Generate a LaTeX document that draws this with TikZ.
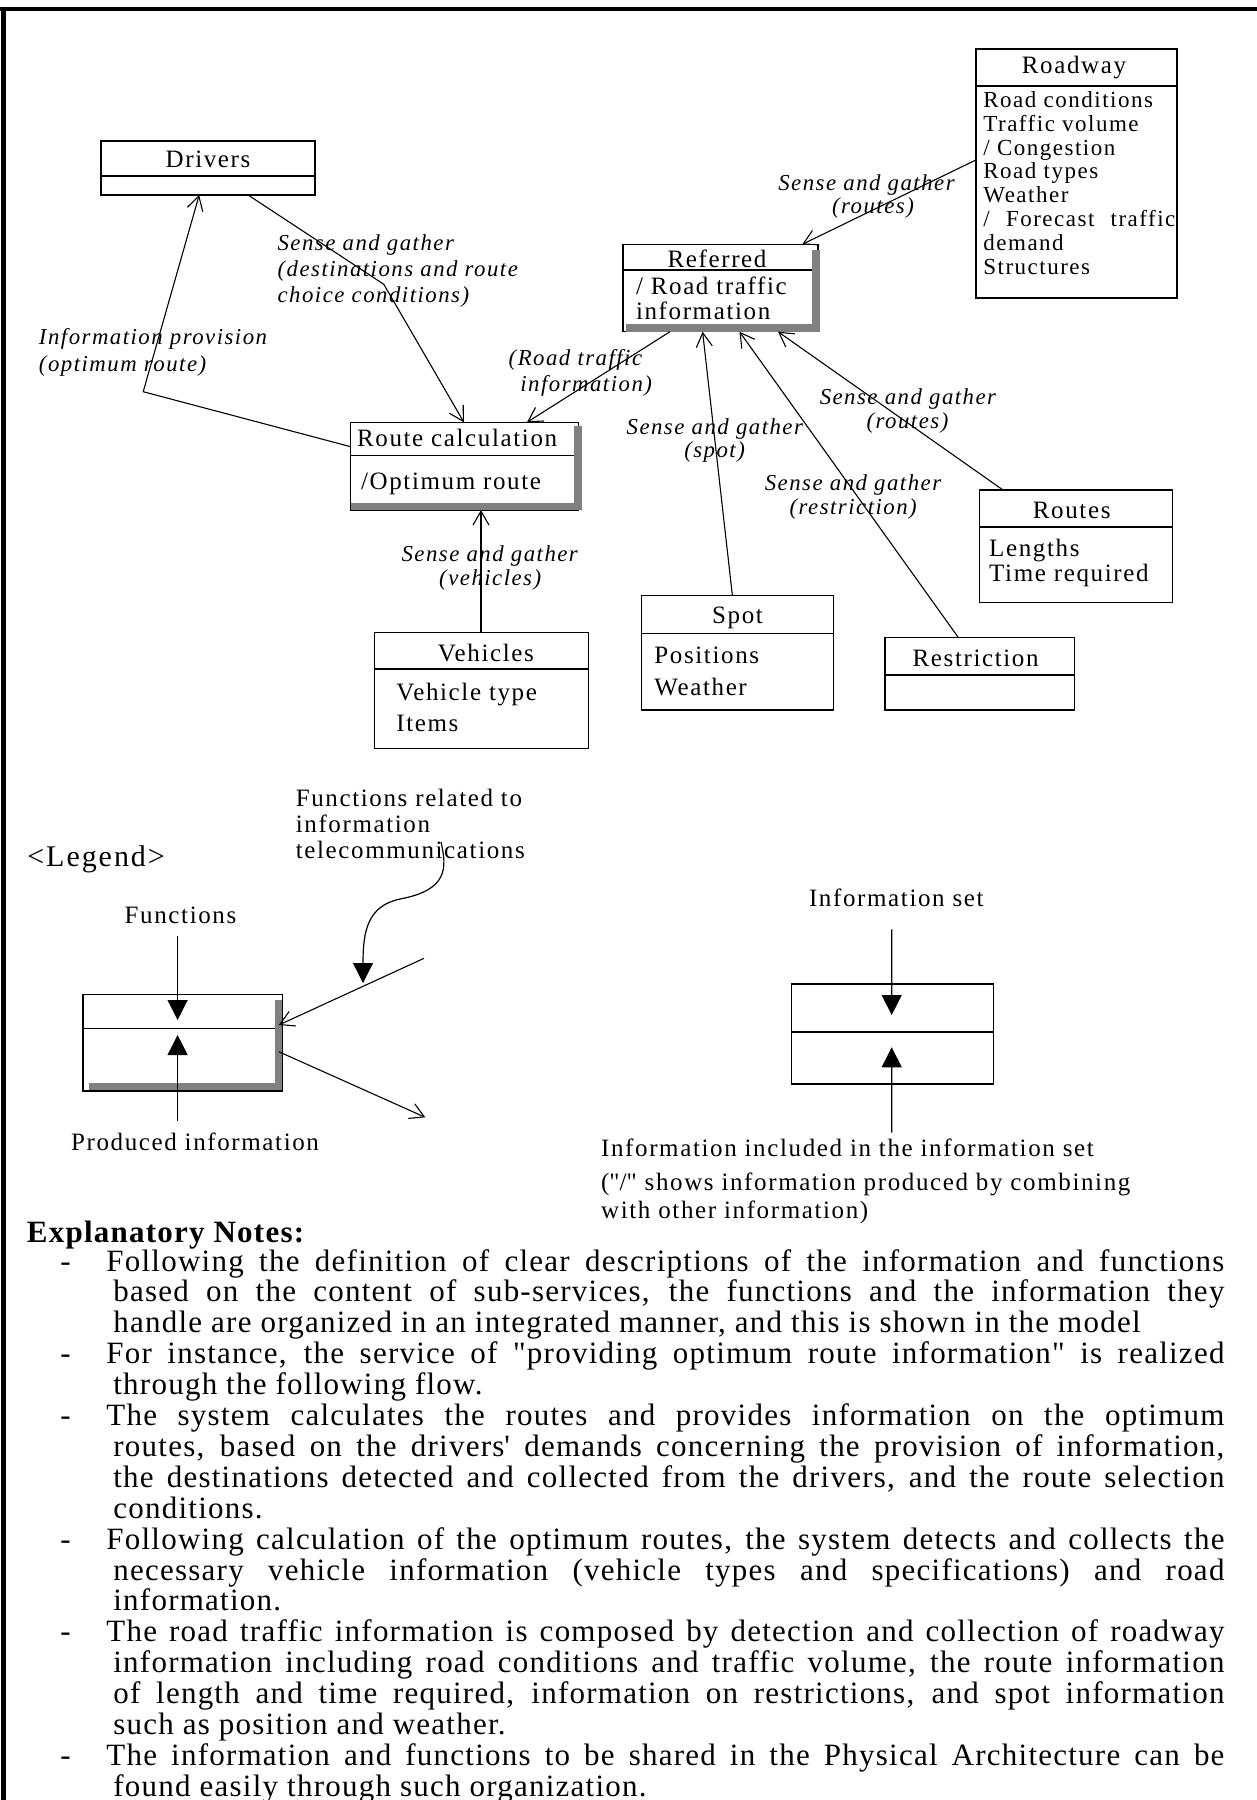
\documentclass[tikz,border=0pt]{standalone}
\usepackage{fontspec}
\setmainfont{Liberation Serif}[LetterSpace=6.5]
\newfontfamily\notesfont{Liberation Serif}[LetterSpace=4]
\usetikzlibrary{arrows.meta,calc}
\definecolor{shadegray}{gray}{0.5}

% class box: name, x1, y1, x2, y2, y of the compartment line
\newcommand\umlbox[6]{%
  \node[umlframe, minimum width={(#4-#2)*0.5pt}, minimum height={(#5-#3)*0.5pt}] (#1) at (#2,#3) {};
  \draw[thinline] (#2,#6) -- (#4,#6);}

\begin{document}
\begin{tikzpicture}[x=0.5pt, y=-0.5pt,
  thinline/.style={line width=0.6pt},
  flow/.style={line width=0.55pt, -{Straight Barb[length=7pt,width=8pt]}},
  solidhead/.style={line width=0.6pt, -{Triangle[length=10pt,width=10pt]}},
  umlframe/.style={draw, line width=0.6pt, fill=white, inner sep=0pt, outer sep=0pt, anchor=north west},
  shadebar/.style={fill=shadegray, draw=none},
  ttl/.style={inner sep=0pt, anchor=base, font=\fontsize{12.5}{15}\selectfont},
  entry/.style={inner sep=0pt, anchor=base west, font=\fontsize{12.5}{15}\selectfont},
  rwentry/.style={inner sep=0pt, anchor=base west, font=\fontsize{11.5}{14}\selectfont},
  lbl/.style={inner sep=0pt, anchor=base, font=\itshape\fontsize{11.4}{14}\selectfont},
  lbll/.style={lbl, anchor=base west},
  legtxt/.style={inner sep=0pt, anchor=base west, font=\fontsize{12.5}{15}\selectfont},
  legmid/.style={legtxt, anchor=base},
  notetxt/.style={inner sep=0pt, anchor=base west, font=\notesfont\fontsize{15.5}{18}\selectfont}]

\useasboundingbox (0,0) rectangle (1257,1800);

% outer frame
\draw[line width=2pt] (0,9) -- (1257,9);
\draw[line width=2.5pt] (3.5,8) -- (3.5,1800);

% ---------- class boxes ----------
\umlbox{drivers}{101}{141}{315}{195}{176}
\node[ttl] (drivers-t) at (208,167) {Drivers};

\umlbox{roadway}{976}{49}{1177}{298}{86}
\node[ttl] (roadway-t) at (1074,73.5) {Roadway};
\node[rwentry] (rw1) at (983,107.3) {Road conditions};
\node[rwentry] (rw2) at (983,131.2) {Traffic volume};
\node[rwentry] (rw3) at (983,155.0) {/ Congestion};
\node[rwentry] (rw4) at (983,178.9) {Road types};
\node[rwentry] (rw5) at (983,202.7) {Weather};
\node[rwentry] (rw6) at (983,226.6) {\makebox[96pt][s]{/ Forecast traffic}};
\node[rwentry] (rw7) at (983,250.4) {demand};
\node[rwentry] (rw8) at (983,274.3) {Structures};

\umlbox{referred}{623}{244.3}{818}{331.7}{270}
\fill[shadebar] (812.4,250) rectangle (820,331.7);
\fill[shadebar] (626,324) rectangle (820,331.7);
\node[ttl] (referred-t) at (717,267.5) {Referred};
\node[entry] (referred-1) at (635.6,294) {/ Road traffic};
\node[entry] (referred-2) at (635.6,319.5) {information};

\umlbox{route}{350.7}{422.3}{578.3}{510}{455.7}
\fill[shadebar] (574.3,425.7) rectangle (581.7,510);
\fill[shadebar] (350.7,502.7) rectangle (581.7,510);
\node[entry] (route-t) at (356.7,446.7) {Route calculation};
\node[entry] (route-1) at (360.7,489.3) {/Optimum route};

\umlbox{vehicles}{374.3}{632.3}{588.3}{748.3}{669}
\node[ttl] (vehicles-t) at (485.8,661.7) {Vehicles};
\node[entry] (vehicles-1) at (396,700) {Vehicle type};
\node[entry] (vehicles-2) at (396,731.7) {Items};

\umlbox{spot}{641.8}{595.7}{833.8}{710}{633.3}
\node[ttl] (spot-t) at (737.5,623.3) {Spot};
\node[entry] (spot-1) at (654,663.3) {Positions};
\node[entry] (spot-2) at (654,695) {Weather};

\umlbox{restriction}{884.9}{637.3}{1074.2}{710}{675}
\node[ttl] (restriction-t) at (975.6,666.7) {Restriction};

\umlbox{routes}{979.1}{490}{1172.3}{602.3}{527}
\node[ttl] (routes-t) at (1071.7,518.3) {Routes};
\node[entry] (routes-1) at (988.8,556) {Lengths};
\node[entry] (routes-2) at (988.8,581.7) {Time required};

% ---------- connectors ----------
\coordinate (bendA) at (383.8,284.3);
\coordinate (bendB) at (143.2,391.7);
\draw[flow] ($(drivers.south west)+(147.1,0)$) -- (bendA) -- ($(route.north west)+(113.2,0)$);
\draw[flow] ($(route.north west)+(0,24.4)$) -- (bendB) -- ($(drivers.south west)+(98.2,0)$);
\draw[flow] ($(roadway.north west)+(-0.2,111)$) -- ($(referred.north west)+(179.3,0)$);
\draw[flow] ($(referred.south west)+(47,0)$) -- ($(route.north west)+(176.3,0)$);
\draw[flow] ($(spot.north west)+(90.6,0)$) -- ($(referred.south west)+(79.6,0)$);
\draw[flow] ($(restriction.north west)+(73.3,0)$) -- ($(referred.south west)+(116.5,0)$);
\draw[flow] ($(routes.north west)+(23.9,0)$) -- ($(referred.south west)+(155,0)$);
\draw[flow] ($(vehicles.north west)+(106.7,0)$) -- ($(route.south west)+(130.3,0)$);

% ---------- connector labels ----------
\node[lbll] (l1a) at (277.2,250) {Sense and gather};
\node[lbll] (l1b) at (277.2,276) {(destinations and route};
\node[lbll] (l1c) at (277.2,302) {choice conditions)};

\node[lbll] (l2a) at (38.6,344) {Information provision};
\node[lbll] (l2b) at (38.6,371) {(optimum route)};

\node[lbl] (l3a) at (866.5,190) {Sense and gather};
\node[lbl] (l3b) at (873,213.5) {(routes)};

\node[lbll] (l4a) at (508.3,365) {(Road traffic};
\node[lbll] (l4b) at (520,391) {information)};

\node[lbl] (l5a) at (714.8,434) {Sense and gather};
\node[lbl] (l5b) at (714.6,457) {(spot)};

\node[lbl] (l6a) at (907.9,404) {Sense and gather};
\node[lbl] (l6b) at (907.5,428) {(routes)};

\node[lbl] (l7a) at (853,490) {Sense and gather};
\node[lbl] (l7b) at (853.2,514) {(restriction)};

\node[lbl] (l8a) at (489.7,561.5) {Sense and gather};
\node[lbl] (l8b) at (490.2,585) {(vehicles)};

% ---------- legend ----------
\node[legtxt, font=\fontsize{15}{18}\selectfont] (legend) at (27,866) {<Legend>};

\node[legtxt] (tele1) at (295.4,806.6) {Functions related to};
\node[legtxt] (tele2) at (295.4,832.6) {information};
\node[legtxt] (tele3) at (295.4,858.3) {telecommunications};

\node[legmid] (fn-t) at (180.5,923) {Functions};
\node[legmid] (prod-t) at (195,1150) {Produced information};

\umlbox{lgfn}{83}{994.3}{282.2}{1091}{1028.3}
\fill[shadebar] (274.7,1000) rectangle (282.2,1090);
\fill[shadebar] (89.2,1082.7) rectangle (282.2,1090);
\draw[thinline] (lgfn.north west) rectangle (lgfn.south east);

\coordinate (fnTop) at (177.6,936);
\coordinate (prodBot) at (177.6,1120.7);
\draw[solidhead] (fnTop) -- ($(lgfn.north west)+(94.6,25.7)$);
\draw[solidhead] (prodBot) -- ($(lgfn.north west)+(94.6,40.7)$);

\coordinate (teleStart) at (441,842);
\draw[solidhead] (teleStart) .. controls (447,868) and (448,890) .. (400,899)
  .. controls (368,906) and (363,930) .. (363,983);

\coordinate (inFree) at (424,958.3);
\coordinate (outFree) at (425.3,1117.3);
\draw[flow] (inFree) -- ($(lgfn.north east)+(-3.4,30.7)$);
\draw[flow] ($(lgfn.north east)+(-3.4,57.4)$) -- (outFree);

\node[legmid] (set-t) at (896.3,906.6) {Information set};
\umlbox{lgset}{791.6}{984}{993.2}{1084}{1032}
\coordinate (setTop) at (891.7,929.3);
\coordinate (setBot) at (891.7,1132.7);
\draw[solidhead] (setTop) -- ($(lgset.north west)+(100.1,31)$);
\draw[solidhead] (setBot) -- ($(lgset.north west)+(100.1,63.3)$);

\node[legtxt] (inc1) at (600.7,1156.6) {Information included in the information set};
\node[legtxt] (inc2) at (600.7,1190) {(\textquotedbl/\textquotedbl{} shows information produced by combining};
\node[legtxt] (inc3) at (600.7,1218) {with other information)};

% ---------- explanatory notes ----------
\node[notetxt, font=\notesfont\bfseries\fontsize{15.5}{18}\selectfont] (nhead) at (26.5,1242) {Explanatory Notes:};

\node[notetxt] (d1) at (60,1271) {-};
\node[notetxt] (n1) at (106,1271) {\makebox[559pt][s]{Following the definition of clear descriptions of the information and functions}};
\node[notetxt] (n2) at (113,1301.9) {\makebox[555.5pt][s]{based on the content of sub-services, the functions and the information they}};
\node[notetxt] (n3) at (113,1332.8) {handle are organized in an integrated manner, and this is shown in the model};

\node[notetxt] (d2) at (60,1363.7) {-};
\node[notetxt] (n4) at (106,1363.7) {\makebox[559pt][s]{For instance, the service of "providing optimum route information" is realized}};
\node[notetxt] (n5) at (113,1394.6) {through the following flow.};

\node[notetxt] (d3) at (60,1425.5) {-};
\node[notetxt] (n6) at (106,1425.5) {\makebox[559pt][s]{The system calculates the routes and provides information on the optimum}};
\node[notetxt] (n7) at (113,1456.4) {\makebox[555.5pt][s]{routes, based on the drivers\textquotesingle{} demands concerning the provision of information,}};
\node[notetxt] (n8) at (113,1487.3) {\makebox[555.5pt][s]{the destinations detected and collected from the drivers, and the route selection}};
\node[notetxt] (n9) at (113,1518.2) {conditions.};

\node[notetxt] (d4) at (60,1549.1) {-};
\node[notetxt] (n10) at (106,1549.1) {\makebox[559pt][s]{Following calculation of the optimum routes, the system detects and collects the}};
\node[notetxt] (n11) at (113,1580) {\makebox[555.5pt][s]{necessary vehicle information (vehicle types and specifications) and road}};
\node[notetxt] (n12) at (113,1610.9) {information.};

\node[notetxt] (d5) at (60,1641.8) {-};
\node[notetxt] (n13) at (106,1641.8) {\makebox[559pt][s]{The road traffic information is composed by detection and collection of roadway}};
\node[notetxt] (n14) at (113,1672.7) {\makebox[555.5pt][s]{information including road conditions and traffic volume, the route information}};
\node[notetxt] (n15) at (113,1703.6) {\makebox[555.5pt][s]{of length and time required, information on restrictions, and spot information}};
\node[notetxt] (n16) at (113,1734.5) {such as position and weather.};

\node[notetxt] (d6) at (60,1765.4) {-};
\node[notetxt] (n17) at (106,1765.4) {\makebox[559pt][s]{The information and functions to be shared in the Physical Architecture can be}};
\node[notetxt] (n18) at (113,1796.3) {found easily through such organization.};

\end{tikzpicture}
\end{document}
